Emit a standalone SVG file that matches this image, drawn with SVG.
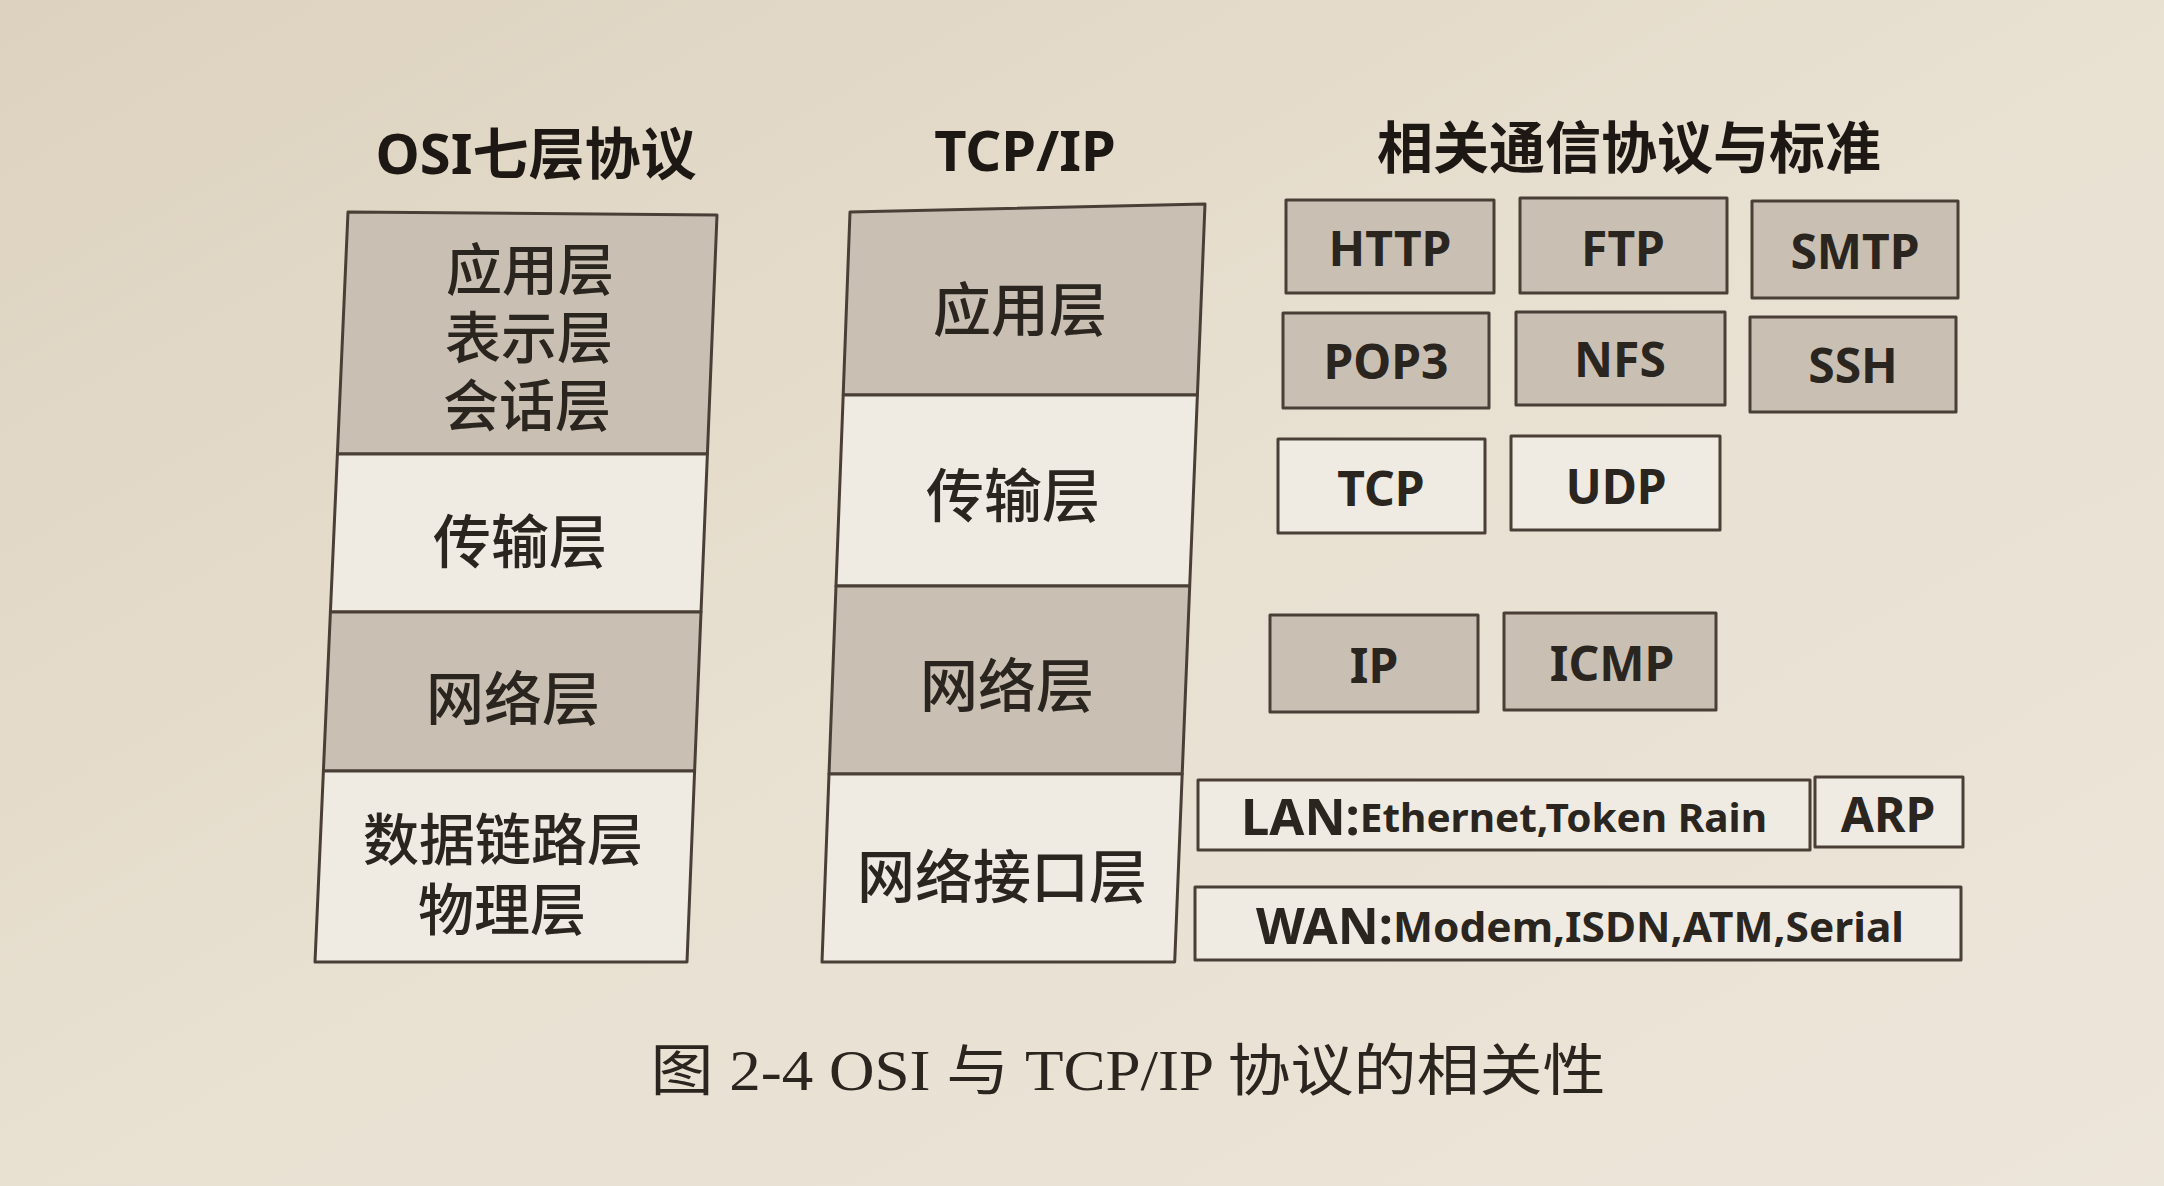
<svg xmlns="http://www.w3.org/2000/svg" width="2164" height="1186" viewBox="0 0 2164 1186">
  <defs>
    <linearGradient id="paper" x1="0" y1="0" x2="1" y2="1">
      <stop offset="0" stop-color="#ddd2bf"/>
      <stop offset="0.5" stop-color="#e8e0d1"/>
      <stop offset="1" stop-color="#ece5d9"/>
    </linearGradient>
    <style>
      .grey { fill: #c9c0b3; stroke: #4a3f37; stroke-width: 3; stroke-linejoin: round; }
      .white { fill: #f0ebe2; stroke: #4a3f37; stroke-width: 3; stroke-linejoin: round; }
      .title { font-family: "Noto Sans", "Noto Sans CJK SC", sans-serif; font-weight: 700; font-size: 56px; fill: #1d1814; text-anchor: middle; dominant-baseline: central; }
      .layer { font-family: "Noto Sans CJK SC", sans-serif; font-weight: 500; font-size: 58px; fill: #2b2520; text-anchor: middle; dominant-baseline: central; }
      .stack { font-size: 56px; }
      .proto { font-family: "Noto Sans", "Liberation Sans", sans-serif; font-weight: 700; font-size: 48px; fill: #2b2520; text-anchor: middle; dominant-baseline: central; }
      .caption { font-family: "Liberation Serif", "Noto Sans CJK SC", serif; font-size: 56px; fill: #2b2520; text-anchor: middle; dominant-baseline: central; }
    </style>
  </defs>

  <rect width="2164" height="1186" fill="url(#paper)"/>

  <!-- column headings -->
  <g id="headings">
    <text class="title" x="536" y="152">OSI七层协议</text>
    <text class="title" x="1025" y="149">TCP/IP</text>
    <text class="title" x="1629" y="146">相关通信协议与标准</text>
  </g>

  <!-- OSI seven-layer stack -->
  <g id="osi">
    <g id="osi-upper">
      <polygon class="grey" points="348,212 717,215 707.4,454 337.4,454"/>
      <text class="layer stack"><tspan x="530" y="265">应用层</tspan><tspan x="529" y="333">表示层</tspan><tspan x="527" y="401">会话层</tspan></text>
    </g>
    <g id="osi-transport">
      <polygon class="white" points="337.4,454 707.4,454 701,612 330.4,612"/>
      <text class="layer" x="520" y="538">传输层</text>
    </g>
    <g id="osi-network">
      <polygon class="grey" points="330.4,612 701,612 694.6,771 323.4,771"/>
      <text class="layer" x="513" y="695">网络层</text>
    </g>
    <g id="osi-lower">
      <polygon class="white" points="323.4,771 694.6,771 687,962 315,962"/>
      <text class="layer stack"><tspan x="503" y="835">数据链路层</tspan><tspan x="502" y="905">物理层</tspan></text>
    </g>
  </g>

  <!-- TCP/IP four-layer stack -->
  <g id="tcpip">
    <g id="tcpip-application">
      <polygon class="grey" points="850,212 1205,204 1197.4,395 843.2,395"/>
      <text class="layer" x="1020" y="306">应用层</text>
    </g>
    <g id="tcpip-transport">
      <polygon class="white" points="843.2,395 1197.4,395 1189.7,586 836,586"/>
      <text class="layer" x="1013" y="492">传输层</text>
    </g>
    <g id="tcpip-network">
      <polygon class="grey" points="836,586 1189.7,586 1182.2,774 829,774"/>
      <text class="layer" x="1007" y="682">网络层</text>
    </g>
    <g id="tcpip-link">
      <polygon class="white" points="829,774 1182.2,774 1174.7,962 822,962"/>
      <text class="layer" x="1002" y="873">网络接口层</text>
    </g>
  </g>

  <!-- protocols and standards -->
  <g id="protocols">
    <g id="p-http"><rect class="grey" x="1286" y="200" width="208" height="93"/><text class="proto" x="1390" y="247">HTTP</text></g>
    <g id="p-ftp"><rect class="grey" x="1520" y="198" width="207" height="95"/><text class="proto" x="1623" y="247">FTP</text></g>
    <g id="p-smtp"><rect class="grey" x="1752" y="201" width="206" height="97"/><text class="proto" x="1855" y="250">SMTP</text></g>
    <g id="p-pop3"><rect class="grey" x="1283" y="313" width="206" height="95"/><text class="proto" x="1386" y="360">POP3</text></g>
    <g id="p-nfs"><rect class="grey" x="1516" y="312" width="209" height="93"/><text class="proto" x="1620" y="358">NFS</text></g>
    <g id="p-ssh"><rect class="grey" x="1750" y="317" width="206" height="95"/><text class="proto" x="1853" y="364">SSH</text></g>
    <g id="p-tcp"><rect class="white" x="1278" y="439" width="207" height="94"/><text class="proto" x="1381" y="487">TCP</text></g>
    <g id="p-udp"><rect class="white" x="1511" y="436" width="209" height="94"/><text class="proto" x="1616" y="485">UDP</text></g>
    <g id="p-ip"><rect class="grey" x="1270" y="615" width="208" height="97"/><text class="proto" x="1374" y="664">IP</text></g>
    <g id="p-icmp"><rect class="grey" x="1504" y="613" width="212" height="97"/><text class="proto" x="1612" y="662">ICMP</text></g>
    <g id="p-lan"><rect class="white" x="1198" y="780" width="612" height="70"/><text class="proto" x="1504" y="816" textLength="526" lengthAdjust="spacingAndGlyphs"><tspan font-size="50">LAN:</tspan><tspan font-size="40">Ethernet,Token Rain</tspan></text></g>
    <g id="p-arp"><rect class="white" x="1815" y="777" width="148" height="70"/><text class="proto" x="1888" y="813">ARP</text></g>
    <g id="p-wan"><rect class="white" x="1195" y="887" width="766" height="73"/><text class="proto" x="1580" y="925" textLength="648" lengthAdjust="spacingAndGlyphs"><tspan font-size="50">WAN:</tspan><tspan font-size="42">Modem,ISDN,ATM,Serial</tspan></text></g>
  </g>

  <!-- connectors: none in this figure -->
  <g id="connectors"/>

  <!-- figure caption -->
  <text class="caption" x="1128" y="1071" textLength="955" lengthAdjust="spacingAndGlyphs">图 2-4  OSI 与 TCP/IP 协议的相关性</text>
</svg>
